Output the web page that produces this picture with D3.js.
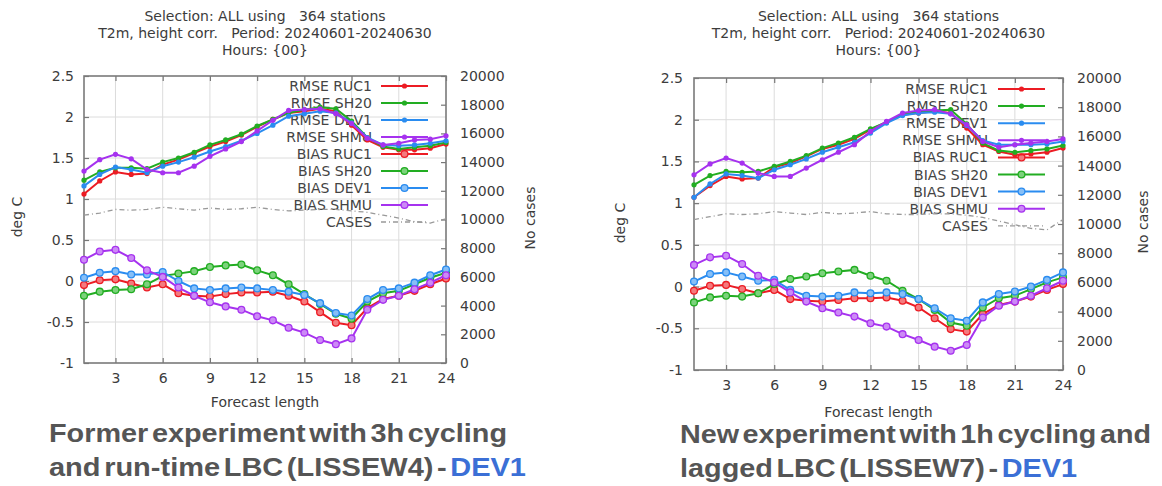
<!DOCTYPE html>
<html><head><meta charset="utf-8">
<script src="https://cdn.jsdelivr.net/npm/d3@7/dist/d3.min.js"></script>
<style>body{margin:0;background:#fff}svg{display:block}</style>
</head><body>
<svg id="chart" width="1162" height="486"></svg>
<script>
// ---------- DATA ----------
const hours = [1,2,3,4,5,6,7,8,9,10,11,12,13,14,15,16,17,18,19,20,21,22,23,24];
const xTickValues = [3,6,9,12,15,18,21,24];
const yTickValues = [-1,-0.5,0,0.5,1,1.5,2,2.5];
const y2TickValues = [0,2000,4000,6000,8000,10000,12000,14000,16000,18000,20000];
const seriesNames = ["RMSE RUC1","RMSE SH20","RMSE DEV1","RMSE SHMU","BIAS RUC1","BIAS SH20","BIAS DEV1","BIAS SHMU"];
const titleLines = ["Selection: ALL using   364 stations","T2m, height corr.   Period: 20240601-20240630","Hours: {00}"];

// Left panel: former experiment (LISSEW4)
const rmseRUC1_A = [1.06,1.22,1.33,1.30,1.31,1.42,1.48,1.56,1.64,1.70,1.78,1.88,1.97,2.05,2.07,2.10,2.07,1.90,1.72,1.63,1.60,1.60,1.62,1.67];
const rmseSH20_A = [1.23,1.33,1.38,1.38,1.37,1.45,1.50,1.57,1.66,1.72,1.79,1.89,1.97,2.05,2.09,2.12,2.10,1.95,1.75,1.64,1.61,1.63,1.65,1.69];
const rmseDEV1_A = [1.16,1.30,1.39,1.36,1.32,1.40,1.45,1.51,1.58,1.64,1.71,1.80,1.90,2.01,2.04,2.07,2.05,1.93,1.75,1.66,1.65,1.66,1.68,1.71];
const rmseSHMU_A = [1.34,1.48,1.545,1.49,1.36,1.32,1.32,1.40,1.52,1.61,1.70,1.83,1.96,2.08,2.09,2.10,2.04,1.92,1.74,1.66,1.68,1.72,1.73,1.77];
const biasRUC1_A = [-0.05,0.01,0.02,-0.03,-0.08,-0.04,-0.15,-0.18,-0.19,-0.16,-0.14,-0.14,-0.13,-0.18,-0.25,-0.38,-0.51,-0.54,-0.33,-0.22,-0.18,-0.12,-0.04,0.03];
const biasSH20_A = [-0.18,-0.13,-0.11,-0.10,-0.04,0.06,0.09,0.12,0.17,0.19,0.20,0.13,0.07,-0.04,-0.16,-0.28,-0.40,-0.46,-0.25,-0.15,-0.12,-0.04,0.04,0.10];
const biasDEV1_A = [0.04,0.10,0.12,0.08,0.08,0.11,0.00,-0.09,-0.11,-0.09,-0.08,-0.09,-0.11,-0.13,-0.17,-0.27,-0.39,-0.42,-0.22,-0.11,-0.09,-0.02,0.07,0.14];
const biasSHMU_A = [0.26,0.36,0.38,0.28,0.13,0.05,-0.08,-0.18,-0.26,-0.31,-0.35,-0.43,-0.48,-0.57,-0.63,-0.72,-0.77,-0.70,-0.35,-0.23,-0.18,-0.10,-0.02,0.07];
const cases_A = [10300,10450,10700,10650,10700,10850,10750,10650,10800,10700,10750,10850,10700,10600,10650,10700,10700,10600,10500,10300,10100,9850,9750,10050];

// Right panel: new experiment (LISSEW7)
const rmseRUC1_B = [1.07,1.21,1.32,1.29,1.30,1.43,1.48,1.56,1.65,1.70,1.77,1.88,1.97,2.06,2.08,2.10,2.08,1.90,1.70,1.62,1.58,1.59,1.61,1.66];
const rmseSH20_B = [1.22,1.33,1.38,1.37,1.38,1.44,1.50,1.57,1.66,1.72,1.79,1.89,1.97,2.06,2.10,2.11,2.12,1.95,1.72,1.63,1.61,1.63,1.65,1.69];
const rmseDEV1_B = [1.07,1.23,1.35,1.33,1.30,1.40,1.46,1.53,1.61,1.67,1.73,1.84,1.96,2.05,2.08,2.09,2.07,1.93,1.75,1.70,1.70,1.70,1.71,1.74];
const rmseSHMU_B = [1.34,1.47,1.54,1.48,1.36,1.32,1.32,1.42,1.52,1.61,1.70,1.86,1.98,2.08,2.11,2.12,2.07,1.94,1.74,1.67,1.70,1.72,1.74,1.77];
const biasRUC1_B = [-0.05,0.01,0.02,-0.03,-0.08,-0.04,-0.15,-0.17,-0.18,-0.16,-0.14,-0.14,-0.13,-0.17,-0.25,-0.38,-0.51,-0.54,-0.33,-0.22,-0.18,-0.12,-0.04,0.03];
const biasSH20_B = [-0.19,-0.13,-0.11,-0.12,-0.08,0.03,0.09,0.12,0.16,0.18,0.20,0.13,0.07,-0.05,-0.15,-0.28,-0.43,-0.47,-0.25,-0.14,-0.11,-0.03,0.05,0.11];
const biasDEV1_B = [0.06,0.15,0.17,0.12,0.07,0.08,-0.04,-0.11,-0.12,-0.11,-0.07,-0.08,-0.07,-0.09,-0.15,-0.26,-0.38,-0.41,-0.19,-0.09,-0.06,0.00,0.08,0.17];
const biasSHMU_B = [0.26,0.35,0.37,0.27,0.13,0.05,-0.07,-0.18,-0.26,-0.31,-0.36,-0.44,-0.48,-0.57,-0.64,-0.72,-0.77,-0.70,-0.37,-0.23,-0.18,-0.11,-0.02,0.07];
const cases_B = [10300,10500,10700,10650,10700,10850,10750,10650,10800,10700,10750,10850,10700,10650,10650,10700,10700,10600,10450,10200,9950,9700,9600,10300];

const captionA = ["Former experiment with 3h cycling", "and run-time LBC (LISSEW4) - ", "DEV1"];
const captionB = ["New experiment with 1h cycling and", "lagged LBC (LISSEW7) - ", "DEV1"];

// ---------- STYLE ----------
const colors = ["#ec1c24","#22ad22","#2a8cf0","#a632ef"];
const lightColors = ["#f47a7e","#7cd27c","#86bff7","#cc8af6"];
const FONT = "'DejaVu Sans', sans-serif";
const TXT = "#3c3c3c";

const svg = d3.select("#chart");

function drawPanel(p, rmse, bias, cases, caption) {
  const g = svg.append("g");
  const x = d3.scaleLinear().domain([1,24]).range([p.left, p.right]);
  const y = d3.scaleLinear().domain([-1,2.5]).range([p.bottom, p.top]);
  const y2 = d3.scaleLinear().domain([0,20000]).range([p.bottom, p.top]);

  // grid
  g.append("g").selectAll("line").data(xTickValues.slice(0,-1)).join("line")
    .attr("x1", d=>x(d)).attr("x2", d=>x(d)).attr("y1", p.top).attr("y2", p.bottom)
    .attr("stroke", "#dcdcdc").attr("stroke-width", 1);
  g.append("g").selectAll("line").data(yTickValues.slice(1,-1)).join("line")
    .attr("y1", d=>y(d)).attr("y2", d=>y(d)).attr("x1", p.left).attr("x2", p.right)
    .attr("stroke", "#dcdcdc").attr("stroke-width", 1);

  // axes
  const styleAxis = sel => {
    sel.select(".domain").remove();
    sel.selectAll(".tick line").attr("stroke", "#777").attr("stroke-width", 1.2);
    sel.selectAll(".tick text").attr("fill", TXT).style("font-family", FONT).style("font-size", "14px");
  };
  g.append("g").attr("transform", `translate(0,${p.bottom})`)
    .call(d3.axisBottom(x).tickValues(xTickValues).tickSize(-5).tickPadding(10).tickFormat(d3.format("d")))
    .call(styleAxis);
  g.append("g").attr("transform", `translate(0,${p.top})`)
    .call(d3.axisTop(x).tickValues(xTickValues).tickSize(-5).tickFormat(""))
    .call(styleAxis);
  g.append("g").attr("transform", `translate(${p.left},0)`)
    .call(d3.axisLeft(y).tickValues(yTickValues).tickSize(-5).tickPadding(p.yPad).tickFormat(d=>String(d)))
    .call(styleAxis);
  g.append("g").attr("transform", `translate(${p.right},0)`)
    .call(d3.axisRight(y2).tickValues(y2TickValues).tickSize(-5).tickPadding(p.y2Pad).tickFormat(d=>String(d)))
    .call(styleAxis);

  // frame
  g.append("rect").attr("x", p.left).attr("y", p.top)
    .attr("width", p.right-p.left).attr("height", p.bottom-p.top)
    .attr("fill", "none").attr("stroke", "#7a7a7a").attr("stroke-width", 1.6);

  // titles
  titleLines.forEach((t,i) => {
    g.append("text").attr("x", (p.left+p.right)/2).attr("y", p.titleY + i*17)
      .attr("text-anchor","middle").style("white-space","pre")
      .style("font-family", FONT).style("font-size","14px").attr("fill", TXT).text(t);
  });
  // axis labels
  g.append("text").attr("transform", `translate(${p.ylabX},${p.ylabY}) rotate(-90)`)
    .attr("text-anchor","middle").style("font-family",FONT).style("font-size","14px").attr("fill",TXT).text("deg C");
  g.append("text").attr("transform", `translate(${p.y2labX},${p.y2labY}) rotate(-90)`)
    .attr("text-anchor","middle").style("font-family",FONT).style("font-size","14px").attr("fill",TXT).text("No cases");
  g.append("text").attr("x", (p.left+p.right)/2).attr("y", p.xlabY)
    .attr("text-anchor","middle").style("font-family",FONT).style("font-size","14px").attr("fill",TXT).text("Forecast length");

  // legend
  seriesNames.concat(["CASES"]).forEach((name,i) => {
    const ly = p.legY + i*p.legDy;
    g.append("text").attr("x", p.legTextX).attr("y", ly).attr("dy","0.36em")
      .attr("text-anchor","end").style("font-family",FONT).style("font-size","14px").attr("fill","#444").text(name);
    if (i < 8) {
      const c = colors[i%4];
      g.append("line").attr("x1", p.legLineX1).attr("x2", p.legLineX2).attr("y1", ly).attr("y2", ly)
        .attr("stroke", c).attr("stroke-width", 2);
      const mx = (p.legLineX1+p.legLineX2)/2;
      if (i < 4) g.append("circle").attr("cx", mx).attr("cy", ly).attr("r", 2.6).attr("fill", c);
      else g.append("circle").attr("cx", mx).attr("cy", ly).attr("r", 3.4).attr("fill", lightColors[i%4]).attr("stroke", c).attr("stroke-width", 1.3);
    } else {
      g.append("line").attr("x1", p.legLineX1).attr("x2", p.legLineX2).attr("y1", ly).attr("y2", ly)
        .attr("stroke", "#999").attr("stroke-width", 1.3).attr("stroke-dasharray","5,3,1,3");
    }
  });

  // cases line
  const lineC = d3.line().x((d,i)=>x(hours[i])).y(d=>y2(d));
  g.append("path").datum(cases).attr("d", lineC).attr("fill","none")
    .attr("stroke","#999").attr("stroke-width",1.3).attr("stroke-dasharray","5,3,1,3");

  const line = d3.line().x((d,i)=>x(hours[i])).y(d=>y(d));
  // bias
  bias.forEach((s,k) => {
    g.append("path").datum(s).attr("d", line).attr("fill","none").attr("stroke", colors[k]).attr("stroke-width",2);
    g.append("g").selectAll("circle").data(s).join("circle")
      .attr("cx",(d,i)=>x(hours[i])).attr("cy", d=>y(d)).attr("r",3.4)
      .attr("fill", lightColors[k]).attr("stroke", colors[k]).attr("stroke-width",1.3);
  });
  // rmse
  rmse.forEach((s,k) => {
    g.append("path").datum(s).attr("d", line).attr("fill","none").attr("stroke", colors[k]).attr("stroke-width",2);
    g.append("g").selectAll("circle").data(s).join("circle")
      .attr("cx",(d,i)=>x(hours[i])).attr("cy", d=>y(d)).attr("r",2.6).attr("fill", colors[k]);
  });

  // caption
  const capFont = "'Liberation Sans', Arial, sans-serif";
  g.append("text").attr("x", p.capX).attr("y", p.capY1)
    .attr("textLength", p.capW1).attr("lengthAdjust","spacingAndGlyphs")
    .style("font-family", capFont).style("font-size","26px").style("font-weight","bold").style("word-spacing","-4px")
    .attr("fill","#555").text(caption[0]);
  const t2 = g.append("text").attr("x", p.capX).attr("y", p.capY2)
    .attr("textLength", p.capW2).attr("lengthAdjust","spacingAndGlyphs")
    .style("font-family", capFont).style("font-size","26px").style("font-weight","bold").style("word-spacing","-4px").style("white-space","pre");
  t2.append("tspan").attr("fill","#555").text(caption[1]);
  t2.append("tspan").attr("fill","#3b6fd6").text(caption[2]);
}

drawPanel({left:84, right:446, top:76, bottom:363, yPad:10, y2Pad:14,
  titleY:21, ylabX:22, ylabY:217, y2labX:535, y2labY:218, xlabY:407,
  legTextX:372, legY:86, legDy:17, legLineX1:381, legLineX2:428,
  capX:49, capY1:442, capY2:476, capW1:458, capW2:477},
  [rmseRUC1_A, rmseSH20_A, rmseDEV1_A, rmseSHMU_A],
  [biasRUC1_A, biasSH20_A, biasDEV1_A, biasSHMU_A], cases_A, captionA);

drawPanel({left:694, right:1063, top:78, bottom:370, yPad:11, y2Pad:14,
  titleY:21, ylabX:625, ylabY:223, y2labX:1148, y2labY:222, xlabY:417,
  legTextX:988, legY:89, legDy:17.1, legLineX1:998, legLineX2:1045,
  capX:680, capY1:443, capY2:477, capW1:471, capW2:397},
  [rmseRUC1_B, rmseSH20_B, rmseDEV1_B, rmseSHMU_B],
  [biasRUC1_B, biasSH20_B, biasDEV1_B, biasSHMU_B], cases_B, captionB);
</script>
</body></html>
